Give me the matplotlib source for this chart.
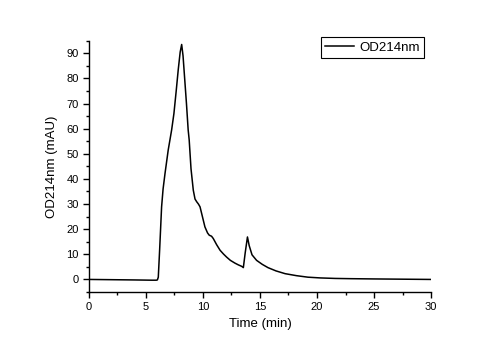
import matplotlib.pyplot as plt
from matplotlib.ticker import MultipleLocator

plt.rcParams['font.family'] = ['Liberation Sans', 'DejaVu Sans']

# chromatogram trace (OD 214 nm)
time_min = [0, 2, 4, 5.5, 5.9, 6.0, 6.08, 6.2, 6.37, 6.5, 6.67, 6.95, 7.25,
            7.45, 7.65, 7.83, 8.0, 8.13, 8.25, 8.4, 8.55, 8.7, 8.79, 8.95,
            9.15, 9.3, 9.45, 9.6, 9.74, 9.95, 10.17, 10.4, 10.55, 10.75,
            10.9, 11.2, 11.5, 11.8, 12.07, 12.4, 12.8, 13.1, 13.4, 13.54,
            13.7, 13.9, 14.05, 14.3, 14.7, 15.2, 15.7, 16.4, 17.2, 18.2,
            19.2, 20.3, 21.6, 23, 25, 27.5, 30]
od214 = [0, -0.1, -0.2, -0.3, -0.3, -0.2, 0.9, 12, 28.9, 36, 42.2, 51.5, 59.5,
         66, 75, 83.5, 90.5, 93.5, 89, 79.5, 70, 59.5, 55.5, 44,
         35.5, 32, 30.9, 30, 28.9, 25, 20.9, 18.5, 17.6, 17.2,
         16.3, 13.8, 11.6, 10.1, 8.9, 7.6, 6.5, 5.8, 5.2, 4.7,
         10.5, 16.9, 13.5, 9.8, 7.6, 6.0, 4.7, 3.4, 2.3, 1.5,
         0.9, 0.6, 0.4, 0.3, 0.2, 0.1, 0.0]

fig = plt.figure(figsize=(5.01, 3.5), dpi=100)
ax = fig.add_axes([0.1776, 0.1657, 0.6827, 0.718])

ax.plot(time_min, od214, color='black', lw=1.1, label='OD214nm')

ax.set_xlim(0, 30)
ax.set_ylim(-5, 95)
ax.xaxis.set_major_locator(MultipleLocator(5))
ax.xaxis.set_minor_locator(MultipleLocator(2.5))
ax.yaxis.set_major_locator(MultipleLocator(10))
ax.yaxis.set_minor_locator(MultipleLocator(5))
ax.set_yticks(range(0, 100, 10))

ax.spines['top'].set_visible(False)
ax.spines['right'].set_visible(False)
for s in ('left', 'bottom'):
    ax.spines[s].set_linewidth(1.0)
ax.tick_params(which='major', direction='out', length=4, width=1, labelsize=8)
ax.tick_params(which='minor', direction='out', length=2.5, width=1)

ax.set_xlabel('Time (min)', fontsize=9.5, labelpad=4)
ax.set_ylabel('OD214nm (mAU)', fontsize=9.5, labelpad=6)

leg = ax.legend(loc='upper right', bbox_to_anchor=(0.846, 0.893),
                bbox_transform=fig.transFigure, fontsize=9.5,
                fancybox=False, edgecolor='black', framealpha=1,
                handlelength=2.2, borderpad=0.32, handletextpad=0.4,
                borderaxespad=0)
leg.get_frame().set_linewidth(0.8)

fig.savefig('out.png', dpi=100)
